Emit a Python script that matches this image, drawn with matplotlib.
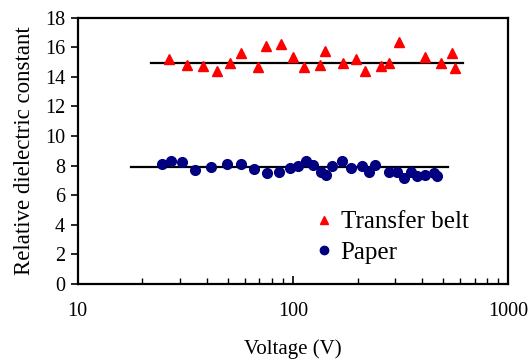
import numpy as np
import matplotlib
matplotlib.use("Agg")
import matplotlib.pyplot as plt
from matplotlib.ticker import FixedLocator, FixedFormatter, LogLocator, NullFormatter

plt.rcParams["font.family"] = ["Liberation Serif", "DejaVu Serif"]

# Transfer belt (red triangles)
belt_v = [26.6, 32.2, 38.2, 44.3, 50.9, 57.3, 68.8, 75.1, 87.9, 100.3, 112.4, 134.3,
          141.6, 171.7, 196.7, 217.3, 257.0, 280.9, 312.6, 410.2, 486.8, 551.1, 565.5]
belt_eps = [15.18, 14.78, 14.73, 14.41, 14.91, 15.59, 14.64, 16.08, 16.22, 15.32, 14.68, 14.80,
            15.76, 14.91, 15.18, 14.41, 14.73, 14.91, 16.33, 15.32, 14.95, 15.63, 14.61]

# Paper (navy circles)
paper_v = [24.6, 27.2, 30.5, 35.0, 41.8, 49.3, 57.7, 66.1, 75.9, 86.0, 96.8, 106.1, 115.3,
           124.6, 135.3, 142.7, 152.7, 169.9, 186.5, 209.8, 225.4, 241.8, 280.9, 306.0,
           328.7, 355.4, 378.9, 411.6, 453.2, 469.6]
paper_eps = [8.11, 8.33, 8.22, 7.72, 7.93, 8.11, 8.13, 7.79, 7.48, 7.59, 7.86, 7.97, 8.31,
             8.02, 7.55, 7.39, 7.97, 8.31, 7.82, 7.97, 7.55, 8.02, 7.55, 7.59,
             7.14, 7.55, 7.30, 7.34, 7.52, 7.30]

# mean lines
belt_line_v = [21.9, 618]
belt_line_eps = [14.95, 14.95]
paper_line_v = [17.7, 527]
paper_line_eps = [7.93, 7.93]

fig = plt.figure(figsize=(5.32, 3.62), dpi=100)
ax = fig.add_axes([0.1457, 0.2155, 0.8093, 0.7356])

ax.plot(belt_line_v, belt_line_eps, color="black", lw=1.6, zorder=2)
ax.plot(paper_line_v, paper_line_eps, color="black", lw=1.6, zorder=2)
ax.plot(belt_v, belt_eps, ls="none", marker="^", ms=7.5, color="#ff0000",
        label="Transfer belt", zorder=3)
ax.plot(paper_v, paper_eps, ls="none", marker="o", ms=7, color="#000080",
        label="Paper", zorder=3)

ax.set_xscale("log")
ax.set_xlim(10, 1000)
ax.set_ylim(0, 18)
ax.set_yticks(np.arange(0, 19, 2))
ax.xaxis.set_major_locator(FixedLocator([10, 100, 1000]))
ax.xaxis.set_major_formatter(FixedFormatter(["10", "100", "1000"]))
ax.xaxis.set_minor_locator(LogLocator(base=10, subs=np.arange(2, 10)))
ax.xaxis.set_minor_formatter(NullFormatter())

ax.tick_params(axis="x", which="major", direction="in", length=6, width=1.2,
               pad=13, labelsize=14.5)
ax.tick_params(axis="x", which="minor", direction="in", length=4, width=1.0)
ax.tick_params(axis="y", direction="out", length=5, width=1.2, pad=4, labelsize=14.5)

for s in ax.spines.values():
    s.set_linewidth(1.6)

ax.set_xlabel("Voltage (V)", fontsize=15, labelpad=13)
ax.set_ylabel("Relative dielectric constant", fontsize=16.5, labelpad=7)

leg = ax.legend(loc="upper left", bbox_to_anchor=(0.55, 0.275), frameon=False,
                fontsize=18, handlelength=0.8, handletextpad=0.25, labelspacing=0.33,
                borderaxespad=0, borderpad=0)
for h in leg.legend_handles:
    h.set_markersize(6)

fig.savefig("out.png", dpi=100)
